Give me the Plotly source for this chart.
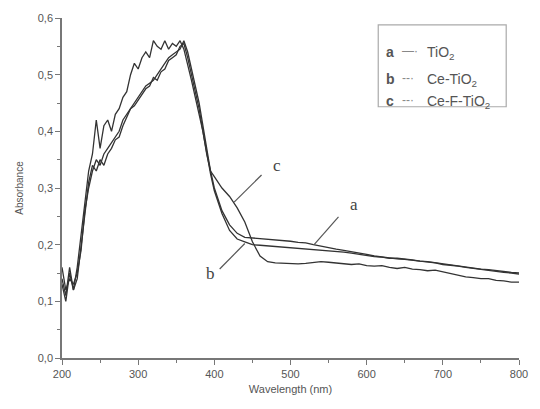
import plotly.graph_objects as go

wl = list(range(200, 401, 5)) + list(range(410, 801, 10))

# Ce-F-TiO2 (c)
abs_c = [0.13, 0.10, 0.15, 0.12, 0.16, 0.22, 0.28, 0.33, 0.36, 0.42, 0.37,
         0.41, 0.42, 0.40, 0.43, 0.44, 0.46, 0.47, 0.50, 0.52, 0.51, 0.53,
         0.54, 0.53, 0.56, 0.55, 0.545, 0.56, 0.545, 0.555, 0.55, 0.56, 0.545,
         0.52, 0.49, 0.46, 0.43, 0.40, 0.36, 0.33, 0.32,
         0.30, 0.285, 0.265, 0.24, 0.205, 0.18, 0.17, 0.168, 0.167, 0.166,
         0.166, 0.167, 0.168, 0.17, 0.169, 0.168, 0.166, 0.165, 0.166, 0.163,
         0.162, 0.163, 0.16, 0.158, 0.16, 0.157, 0.156, 0.154, 0.155, 0.152,
         0.15, 0.146, 0.143, 0.142, 0.14, 0.14, 0.137, 0.136, 0.134, 0.134]

# TiO2 (a)
abs_a = [0.16, 0.12, 0.14, 0.13, 0.15, 0.19, 0.26, 0.30, 0.33, 0.35, 0.34,
         0.36, 0.37, 0.38, 0.39, 0.40, 0.42, 0.43, 0.44, 0.45, 0.46, 0.47,
         0.48, 0.485, 0.49, 0.50, 0.51, 0.52, 0.53, 0.535, 0.54, 0.545, 0.56,
         0.54, 0.51, 0.48, 0.45, 0.41, 0.37, 0.33, 0.30,
         0.26, 0.235, 0.22, 0.213, 0.212, 0.211, 0.21, 0.208, 0.207, 0.206,
         0.204, 0.203, 0.20, 0.197, 0.195, 0.192, 0.19, 0.188, 0.185, 0.183,
         0.18, 0.178, 0.177, 0.175, 0.174, 0.172, 0.171, 0.17, 0.168, 0.166,
         0.165, 0.163, 0.16, 0.158, 0.157, 0.156, 0.154, 0.152, 0.151, 0.15]

# Ce-TiO2 (b)
abs_b = [0.14, 0.11, 0.16, 0.12, 0.14, 0.20, 0.25, 0.31, 0.34, 0.33, 0.35,
         0.34, 0.36, 0.37, 0.385, 0.39, 0.41, 0.425, 0.44, 0.445, 0.455, 0.465,
         0.475, 0.48, 0.495, 0.49, 0.505, 0.51, 0.525, 0.53, 0.535, 0.55, 0.555,
         0.53, 0.50, 0.47, 0.44, 0.40, 0.36, 0.325, 0.295,
         0.255, 0.225, 0.21, 0.205, 0.20, 0.199, 0.198, 0.197, 0.196, 0.195,
         0.194, 0.193, 0.192, 0.191, 0.19, 0.188, 0.187, 0.185, 0.183, 0.18,
         0.179, 0.178, 0.176, 0.176, 0.175, 0.173, 0.171, 0.17, 0.168, 0.165,
         0.164, 0.162, 0.16, 0.158, 0.157, 0.155, 0.153, 0.151, 0.15, 0.148]

series = [("TiO<sub>2</sub>", abs_a), ("Ce-TiO<sub>2</sub>", abs_b), ("Ce-F-TiO<sub>2</sub>", abs_c)]

fig = go.Figure()
for name, ys in series:
    fig.add_trace(go.Scatter(x=wl, y=ys, mode="lines", name=name,
                             line=dict(color="#333333", width=1.3),
                             showlegend=False))

# curve labels with pointer lines
labels = [("c", 482, 0.339, 462, 0.323, 426, 0.275),
          ("a", 583, 0.271, 563, 0.249, 531, 0.200),
          ("b", 395, 0.150, 407, 0.157, 440, 0.202)]
for txt, lx, ly, x0, y0, x1, y1 in labels:
    fig.add_annotation(x=lx, y=ly, text=txt, showarrow=False,
                       font=dict(family="Liberation Serif", size=17, color="#444444"))
    fig.add_shape(type="line", x0=x0, y0=y0, x1=x1, y1=y1,
                  line=dict(color="#555555", width=1.2))

# legend box
fig.add_shape(type="rect", xref="paper", yref="paper",
              x0=0.692, x1=0.972, y0=0.739, y1=0.980,
              line=dict(color="#aaaaaa", width=1.2), fillcolor="white")
leg_y = [0.928, 0.850, 0.786]
leg_letters = ["a", "b", "c"]
leg_names = ["TiO<sub>2</sub>", "Ce-TiO<sub>2</sub>", "Ce-F-TiO<sub>2</sub>"]
leg_dash = ["—·", "--·", "--·"]
for yy, let, nm, ds in zip(leg_y, leg_letters, leg_names, leg_dash):
    fig.add_annotation(xref="paper", yref="paper", x=0.705, y=yy, xanchor="left",
                       text="<b>" + let + "</b>", showarrow=False,
                       font=dict(family="Liberation Sans", size=14, color="#555555"))
    fig.add_annotation(xref="paper", yref="paper", x=0.740, y=yy, xanchor="left",
                       text=ds, showarrow=False,
                       font=dict(family="Liberation Sans", size=12, color="#888888"))
    fig.add_annotation(xref="paper", yref="paper", x=0.795, y=yy, xanchor="left",
                       text=nm, showarrow=False,
                       font=dict(family="Liberation Sans", size=14, color="#555555"))

axis_common = dict(showline=True, linecolor="#777777", linewidth=1.5,
                   ticks="outside", ticklen=5, tickcolor="#777777", tickwidth=1.2,
                   showgrid=False, zeroline=False, mirror=False,
                   tickfont=dict(family="Liberation Sans", size=11, color="#555555"))

fig.update_xaxes(range=[200, 800], tickvals=[200, 300, 400, 500, 600, 700, 800],
                 minor=dict(ticks="outside", ticklen=3, dtick=50, tickcolor="#777777"),
                 title=dict(text="Wavelength (nm)", standoff=6,
                            font=dict(family="Liberation Sans", size=11, color="#555555")),
                 **axis_common)
fig.update_yaxes(range=[0, 0.6], tickvals=[0, 0.1, 0.2, 0.3, 0.4, 0.5, 0.6], tickformat=".1f",
                 minor=dict(ticks="outside", ticklen=3, dtick=0.05, tickcolor="#777777"),
                 title=dict(text="Absorbance", standoff=12,
                            font=dict(family="Liberation Sans", size=10, color="#555555")),
                 **axis_common)

fig.update_layout(width=540, height=409, separators=", ",
                  margin=dict(l=62, r=14, t=13, b=51),
                  plot_bgcolor="white", paper_bgcolor="white")

fig.write_html("out.html")
